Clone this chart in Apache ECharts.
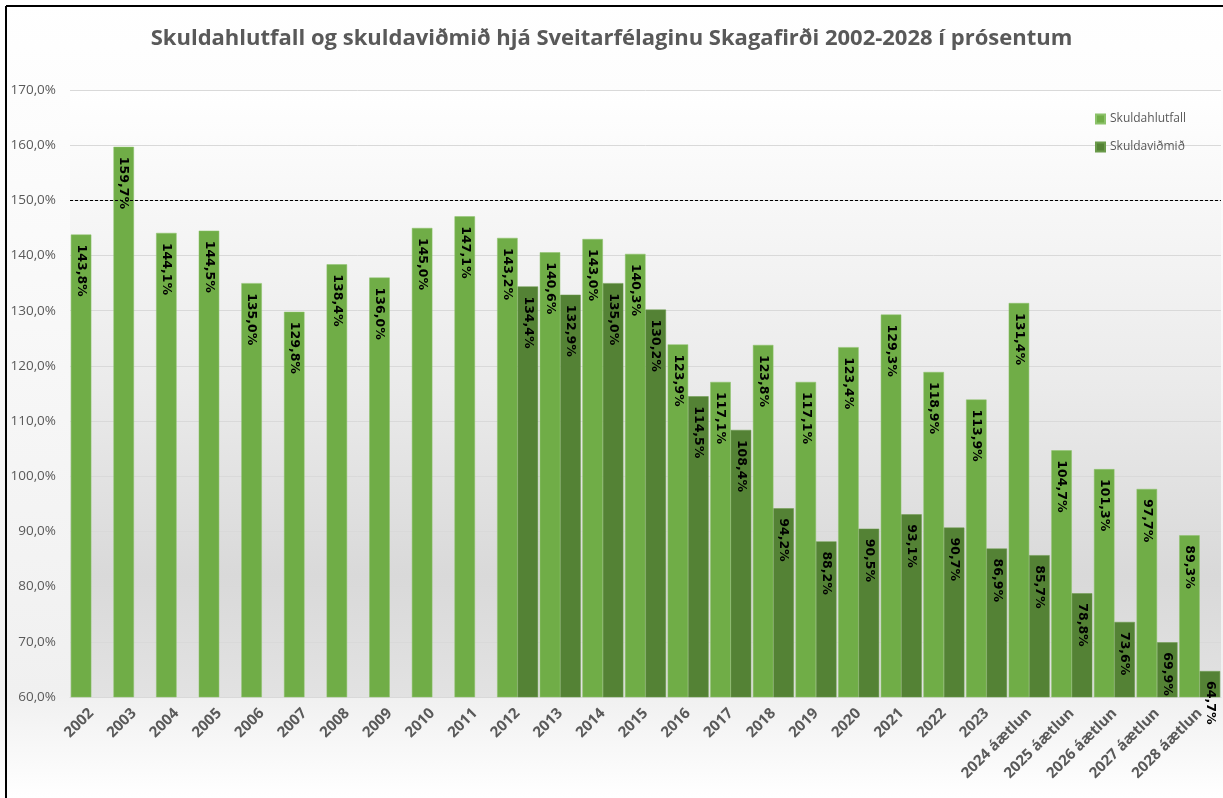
<!DOCTYPE html>
<html>
<head>
<meta charset="utf-8">
<script src="https://cdn.jsdelivr.net/npm/echarts@6/dist/echarts.min.js"></script>
<style>html,body{margin:0;padding:0;background:#fff}#c{width:1223px;height:798px}</style>
</head>
<body>
<div id="c"></div>
<script>
const categories = ['2002','2003','2004','2005','2006','2007','2008','2009','2010','2011','2012','2013','2014','2015','2016','2017','2018','2019','2020','2021','2022','2023','2024 áætlun','2025 áætlun','2026 áætlun','2027 áætlun','2028 áætlun'];
const skuldahlutfall = [143.8,159.7,144.1,144.5,135.0,129.8,138.4,136.0,145.0,147.1,143.2,140.6,143.0,140.3,123.9,117.1,123.8,117.1,123.4,129.3,118.9,113.9,131.4,104.7,101.3,97.7,89.3];
const skuldavidmid = [null,null,null,null,null,null,null,null,null,null,134.4,132.9,135.0,130.2,114.5,108.4,94.2,88.2,90.5,93.1,90.7,86.9,85.7,78.8,73.6,69.9,64.7];
const referenceLine = 150;
const yMin = 60, yMax = 170, yStep = 10;

const fmt = v => v.toFixed(1).replace('.', ',') + '%';
const chart = echarts.init(document.getElementById('c'), null, {renderer: 'canvas'});
const labelCfg = {
  show: true, position: 'insideTop', rotate: -90, align: 'left', verticalAlign: 'middle',
  distance: 10, color: '#000', fontFamily: 'DejaVu Sans', fontSize: 12.5, fontWeight: 'bold',
  formatter: p => fmt(p.value)
};
chart.setOption({
  backgroundColor: {type: 'linear', x: 0, y: 0, x2: 0, y2: 1, colorStops: [
    {offset: 0, color: '#ffffff'}, {offset: 0.87, color: '#f0f0f0'}, {offset: 1, color: '#ffffff'}]},
  animation: false,
  title: {
    text: 'Skuldahlutfall og skuldaviðmið hjá Sveitarfélaginu Skagafirði 2002-2028 í prósentum',
    left: 'center', top: 23,
    textStyle: {fontFamily: 'Open Sans', fontSize: 22, fontWeight: 'bold', color: '#595959'}
  },
  legend: {
    orient: 'vertical', left: 1090, top: 108, itemWidth: 9, itemHeight: 9, itemGap: 16,
    icon: 'rect',
    textStyle: {fontFamily: 'Open Sans', fontSize: 12, color: '#595959'},
    data: ['Skuldahlutfall', 'Skuldaviðmið']
  },
  grid: {
    left: 70, right: 2, top: 90, bottom: 101, show: true, borderWidth: 0,
    backgroundColor: {type: 'linear', x: 0, y: 0, x2: 0, y2: 1, colorStops: [
      {offset: 0, color: '#ffffff'}, {offset: 0.5, color: '#eaeaea'}, {offset: 0.8, color: '#d9d9d9'}, {offset: 1, color: '#e2e2e2'}]}
  },
  xAxis: {
    type: 'category', data: categories,
    axisLine: {lineStyle: {color: '#d9d9d9', width: 1}},
    axisTick: {show: false},
    axisLabel: {interval: 0, rotate: 45, margin: 14, fontFamily: 'Open Sans', fontSize: 15, fontWeight: 'bold', color: '#595959'}
  },
  yAxis: {
    type: 'value', min: yMin, max: yMax, interval: yStep,
    axisLine: {show: false}, axisTick: {show: false},
    splitLine: {lineStyle: {color: '#d9d9d9', width: 1}},
    axisLabel: {margin: 14, fontFamily: 'Open Sans', fontSize: 13.5, color: '#595959', formatter: v => fmt(v)}
  },
  series: [
    {
      name: 'Skuldahlutfall', type: 'bar', data: skuldahlutfall, barGap: '0%', barCategoryGap: '4%',
      itemStyle: {color: '#70AD47', borderColor: '#8cc26a', borderWidth: 0.5},
      label: labelCfg,
      markLine: {
        silent: true, symbol: 'none', label: {show: false},
        lineStyle: {type: [3, 2], color: '#000', width: 1},
        data: [{yAxis: referenceLine}]
      }
    },
    {
      name: 'Skuldaviðmið', type: 'bar', data: skuldavidmid, barGap: '0%', barCategoryGap: '4%',
      itemStyle: {color: '#548235', borderColor: '#6a9a4a', borderWidth: 0.5},
      label: labelCfg
    }
  ],
  graphic: [
    {type: 'line', shape: {x1: 6, y1: 6, x2: 1223, y2: 6}, style: {stroke: '#000', lineWidth: 2}},
    {type: 'line', shape: {x1: 6, y1: 6, x2: 6, y2: 798}, style: {stroke: '#000', lineWidth: 2}}
  ]
});
</script>
</body>
</html>
